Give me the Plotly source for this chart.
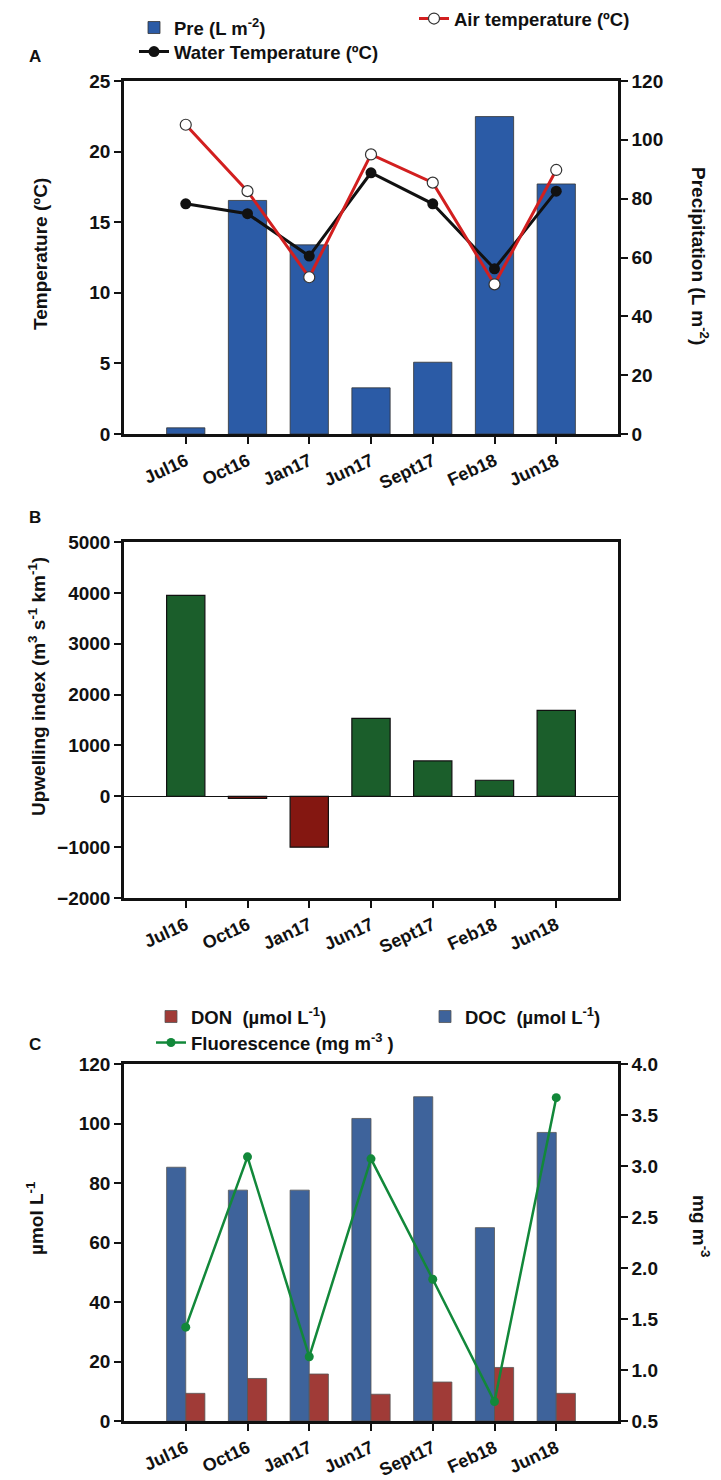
import plotly.graph_objects as go

# The page body adds an 8px margin; reference pixel positions are shifted by 8
# and the figure runs to the window's right and bottom edges.
PAGE_W, PAGE_H = 721, 1480
OFF = 8
W, H = PAGE_W - OFF, PAGE_H - OFF

categories = ["Jul16", "Oct16", "Jan17", "Jun17", "Sept17", "Feb18", "Jun18"]
precip = [2.1, 79.4, 64.3, 15.7, 24.4, 107.9, 85.0]
air_temp = [21.9, 17.2, 11.1, 19.8, 17.8, 10.6, 18.7]
water_temp = [16.3, 15.6, 12.6, 18.5, 16.3, 11.7, 17.2]
upwelling = [3950, -40, -1000, 1530, 695, 315, 1690]
doc = [85.3, 77.6, 77.6, 101.7, 109.0, 65.0, 97.0]
don = [9.3, 14.3, 15.8, 9.0, 13.1, 18.0, 9.3]
fluorescence = [1.42, 3.09, 1.13, 3.07, 1.89, 0.69, 3.67]

FONT = "Liberation Sans, Arial, sans-serif"
tickfont = dict(family=FONT, size=19, color="#111", weight="bold")
xtickfont = dict(family=FONT, size=18, color="#111", weight="bold")


def px_x(p):
    return (p - OFF) / W


def px_y(p):
    return 1 - (p - OFF) / H


fig = go.Figure()

# Panel A
fig.add_trace(go.Bar(x=categories, y=precip, name="Pre (L m<sup>-2</sup>)",
                     marker=dict(color="#2b5ba6", line=dict(color="#333", width=0.8)),
                     xaxis="x", yaxis="y", legend="legend"))
fig.add_trace(go.Scatter(x=categories, y=water_temp, name="Water Temperature (ºC)",
                         mode="lines+markers",
                         line=dict(color="#111", width=3),
                         marker=dict(color="#111", size=11),
                         xaxis="x", yaxis="y2", legend="legend2"))
fig.add_trace(go.Scatter(x=categories, y=air_temp, name="Air temperature (ºC)",
                         mode="lines+markers",
                         line=dict(color="#d21f1f", width=3),
                         marker=dict(color="white", size=11, line=dict(color="#333", width=1.2)),
                         xaxis="x", yaxis="y2", legend="legend3"))

# Panel B
up_colors = ["#1b5e2b" if v >= 0 else "#841711" for v in upwelling]
fig.add_trace(go.Bar(x=categories, y=upwelling, name="Upwelling index",
                     marker=dict(color=up_colors, line=dict(color="#111", width=1.2)),
                     xaxis="x2", yaxis="y3", showlegend=False))

# Panel C
fig.add_trace(go.Bar(x=categories, y=doc, name="DOC  (µmol L<sup>-1</sup>)",
                     marker=dict(color="#3e639b", line=dict(color="#555", width=0.8)),
                     xaxis="x3", yaxis="y4", legend="legend5"))
fig.add_trace(go.Bar(x=categories, y=don, name="DON  (µmol L<sup>-1</sup>)",
                     marker=dict(color="#a03b37", line=dict(color="#555", width=0.8)),
                     xaxis="x3", yaxis="y4", legend="legend4"))
fig.add_trace(go.Scatter(x=categories, y=fluorescence, name="Fluorescence (mg m<sup>-3</sup> )",
                         mode="lines+markers",
                         line=dict(color="#12883a", width=2.5),
                         marker=dict(color="#12883a", size=9),
                         xaxis="x3", yaxis="y5", legend="legend6"))

xdom = [px_x(124), px_x(618)]
axline = dict(showline=True, linecolor="#111", linewidth=2.5, ticks="outside",
              ticklen=7, tickwidth=2, tickcolor="#111", showgrid=False,
              zeroline=False, tickfont=tickfont, automargin=False)

xcommon = dict(axline, type="category", range=[-1, 7], tickangle=-25, mirror=True,
               tickfont=xtickfont)

legfont = dict(family=FONT, size=18.5, color="#111", weight="bold")


def leg(xp, yp):
    return dict(x=px_x(xp), y=px_y(yp), xref="paper", yref="paper",
                xanchor="left", yanchor="middle", bgcolor="rgba(0,0,0,0)",
                font=legfont, borderwidth=0)


fig.update_layout(
    template="none",
    width=W, height=H,
    margin=dict(l=0, r=0, t=0, b=0, autoexpand=False),
    paper_bgcolor="white", plot_bgcolor="white",
    barmode="group", bargap=0.38,
    xaxis=dict(xcommon, domain=xdom, anchor="y"),
    yaxis=dict(axline, domain=[px_y(434), px_y(81)], range=[0, 120], dtick=20,
               side="right", anchor="x"),
    yaxis2=dict(axline, range=[0, 25], dtick=5, side="left", overlaying="y", anchor="x"),
    xaxis2=dict(xcommon, domain=xdom, anchor="y3"),
    yaxis3=dict(axline, domain=[px_y(898), px_y(542)], range=[-2000, 5000], dtick=1000,
                anchor="x2", mirror=True, zeroline=True, zerolinecolor="#111",
                zerolinewidth=1.2),
    xaxis3=dict(xcommon, domain=xdom, anchor="y4"),
    yaxis4=dict(axline, domain=[px_y(1421), px_y(1064)], range=[0, 120], dtick=20,
                side="left", anchor="x3"),
    yaxis5=dict(axline, range=[0.5, 4.0], dtick=0.5, tickformat=".1f", side="right",
                overlaying="y4", anchor="x3"),
    showlegend=True,
    legend=leg(134, 28),
    legend2=leg(134, 52),
    legend3=leg(414, 19),
    legend4=leg(151, 1017),
    legend5=leg(425, 1017),
    legend6=leg(151, 1043),
)

titlefont = dict(family=FONT, size=19, color="#111", weight="bold")
annots = [
    ("Temperature (ºC)", 40, 254, -90),
    ("Precipitation (L m<sup>-2</sup>)", 700, 256, 90),
    ("Upwelling index (m<sup>3</sup> s<sup>-1</sup> km<sup>-1</sup>)", 37, 687, -90),
    ("µmol L<sup>-1</sup>", 35, 1218, -90),
    ("mg m<sup>-3</sup>", 701, 1226, 90),
]
for text, xp, yp, ang in annots:
    fig.add_annotation(text=text, x=px_x(xp), y=px_y(yp), xref="paper", yref="paper",
                       showarrow=False, textangle=ang, font=titlefont,
                       xanchor="center", yanchor="middle")

panelfont = dict(family=FONT, size=17, color="#111", weight="bold")
for text, xp, yp in [("A", 35, 56), ("B", 35, 517), ("C", 35, 1044)]:
    fig.add_annotation(text=text, x=px_x(xp), y=px_y(yp), xref="paper", yref="paper",
                       showarrow=False, font=panelfont, xanchor="center", yanchor="middle")

fig.write_html("out.html")
